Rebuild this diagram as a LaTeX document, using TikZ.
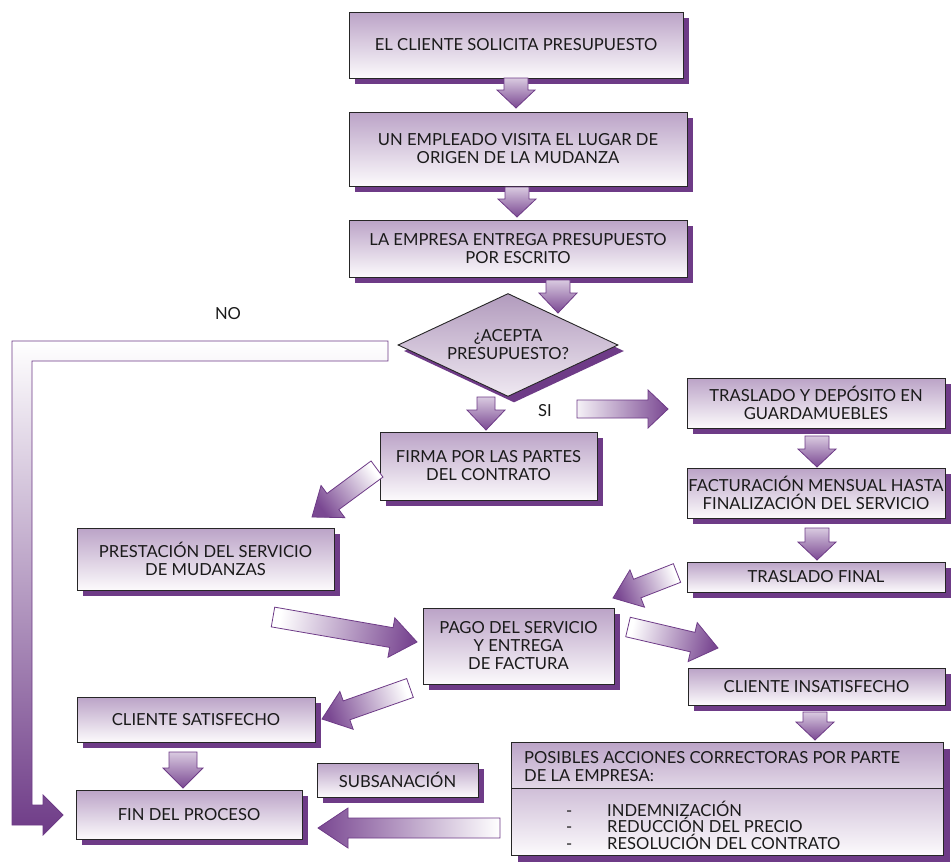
\documentclass[tikz,border=0pt]{standalone}
\usepackage{fontspec}
\setmainfont{Lato}
\usetikzlibrary{shapes.geometric,calc,shadows}
\definecolor{shp}{HTML}{6E3B87}
\definecolor{btop}{HTML}{BBA3C7}
\definecolor{bbot}{HTML}{FCFAFC}
\definecolor{ahead}{HTML}{7A4892}
\definecolor{atail}{HTML}{D9CAE0}
\definecolor{txt}{HTML}{1A1A1A}
\newcommand\boxfont{\fontsize{16.6}{18}\selectfont}
% #1 tail x, #2 tail y, #3 tip x, #4 tip y (pixels, y downward), #5 shaft half width, #6 head half width, #7 head length, #8 tail colour
\newcommand\blockarrow[8]{%
  \pgfmathsetmacro\baang{atan2((#2)-(#4),(#3)-(#1))+90}%
  \coordinate (bt) at (#1,-#2);
  \coordinate (bh) at (#3,-#4);
  \coordinate (bn) at ($(bh)!#7pt!(bt)$);
  \path[draw=shp, line width=0.8pt, line join=miter, top color=#8, bottom color=ahead, shading angle=\baang]
    ($(bt)!#5pt!90:(bh)$) -- ($(bn)!#5pt!-90:(bt)$) -- ($(bn)!#6pt!-90:(bt)$) -- (bh)
    -- ($(bn)!#6pt!90:(bt)$) -- ($(bn)!#5pt!90:(bt)$) -- ($(bt)!#5pt!-90:(bh)$) -- cycle;
}
\tikzset{
  flowbox/.style={draw=black!85, line width=0.9pt, top color=btop, bottom color=bbot,
    align=center, font=\boxfont, text=txt, inner sep=1pt,
    drop shadow={shadow xshift=6pt, shadow yshift=-6pt, fill=shp, opacity=1}},
  lbl/.style={font=\boxfont, text=txt, inner sep=0pt}
}
\begin{document}
\begin{tikzpicture}[x=1pt,y=1pt]
\useasboundingbox (0,0) rectangle (951,-863);
\fill[white] (0,0) rectangle (951,-863);

% boxes
\node[flowbox, minimum width=334pt, minimum height=66pt] (b1) at (516,-45) {EL CLIENTE SOLICITA PRESUPUESTO};
\node[flowbox, minimum width=338pt, minimum height=74pt] (b2) at (518,-149) {UN EMPLEADO VISITA EL LUGAR DE\\ORIGEN DE LA MUDANZA};
\node[flowbox, minimum width=338pt, minimum height=57pt] (b3) at (518,-248.5) {LA EMPRESA ENTREGA PRESUPUESTO\\POR ESCRITO};
\node[diamond, aspect=2.14, draw=black!85, line width=0.9pt, top color=btop!95!black, bottom color=bbot!80!btop,
  minimum width=220pt, minimum height=103pt, inner sep=0pt, align=center, font=\boxfont, text=txt,
  drop shadow={shadow xshift=6pt, shadow yshift=-6pt, fill=shp, opacity=1}] (dec) at (508,-345) {¿ACEPTA\\PRESUPUESTO?};
\node[flowbox, minimum width=217pt, minimum height=68pt] (firma) at (488.5,-466) {FIRMA POR LAS PARTES\\DEL CONTRATO};
\node[flowbox, minimum width=258pt, minimum height=50pt] (tras) at (816,-403) {TRASLADO Y DEPÓSITO EN\\GUARDAMUEBLES};
\node[flowbox, minimum width=258pt, minimum height=50pt] (fact) at (816,-493) {FACTURACIÓN MENSUAL HASTA\\FINALIZACIÓN DEL SERVICIO};
\node[flowbox, minimum width=258pt, minimum height=30pt] (tfin) at (816,-577) {TRASLADO FINAL};
\node[flowbox, minimum width=257pt, minimum height=62pt] (prest) at (205.5,-559) {PRESTACIÓN DEL SERVICIO\\DE MUDANZAS};
\node[flowbox, minimum width=191pt, minimum height=76pt] (pago) at (518.5,-646) {PAGO DEL SERVICIO\\Y ENTREGA\\DE FACTURA};
\node[flowbox, minimum width=257pt, minimum height=37pt] (insat) at (816.5,-686.5) {CLIENTE INSATISFECHO};
\node[flowbox, minimum width=238pt, minimum height=45pt] (sat) at (196,-719.5) {CLIENTE SATISFECHO};
\node[flowbox, minimum width=226pt, minimum height=49pt] (fin) at (189,-814.5) {FIN DEL PROCESO};
\node[flowbox, minimum width=161pt, minimum height=34pt] (subs) at (397.5,-780) {SUBSANACIÓN};

% corrective actions box
\fill[shp] (518,-749) rectangle (950,-862);
\path[top color=btop, bottom color=bbot!60!btop] (511,-742) rectangle (943,-788);
\path[top color=btop!70!white, bottom color=bbot] (511,-788) rectangle (943,-855);
\draw[black!85, line width=0.9pt] (511,-742) rectangle (943,-855);
\draw[black!85, line width=0.9pt] (511,-788) -- (943,-788);
\node[lbl, anchor=base west] (acc1) at (524,-763) {POSIBLES ACCIONES CORRECTORAS POR PARTE};
\node[lbl, anchor=base west] (acc2) at (524,-781) {DE LA EMPRESA:};
\node[lbl, anchor=base west] (d1) at (566,-816) {-};
\node[lbl, anchor=base west] (d2) at (566,-832) {-};
\node[lbl, anchor=base west] (d3) at (566,-849) {-};
\node[lbl, anchor=base west] (i1) at (607,-816) {INDEMNIZACIÓN};
\node[lbl, anchor=base west] (i2) at (607,-832) {REDUCCIÓN DEL PRECIO};
\node[lbl, anchor=base west] (i3) at (607,-849) {RESOLUCIÓN DEL CONTRATO};

% NO loop
\path[draw=shp, line width=0.8pt, line join=miter, top color=white, middle color=shp!75!white, bottom color=shp]
  (12,-341) -- (388,-341) -- (388,-361) -- (32,-361) -- (32,-805) -- (43,-805) -- (43,-795)
  -- (63,-815) -- (43,-835) -- (43,-825) -- (12,-825) -- cycle;
\node[lbl] (no) at (228,-314) {NO};
\node[lbl] (si) at (545,-411) {SI};

% straight down arrows
\blockarrow{516}{78}{516}{108}{12}{19}{18}{atail}
\blockarrow{517}{187}{517}{217}{12}{19}{18}{atail}
\blockarrow{558}{280}{558}{313}{12}{19}{20}{atail}
\blockarrow{486}{397}{486}{430}{9}{19}{20}{atail}
\blockarrow{817}{436}{817}{467}{12}{19}{18}{atail}
\blockarrow{817}{528}{817}{560}{12}{19}{18}{atail}
\blockarrow{815}{712}{815}{740}{12}{19}{18}{atail}
\blockarrow{183}{752}{183}{788}{14}{20}{20}{atail}
% SI arrow
\blockarrow{577}{409}{668}{409}{9}{19}{20}{white!85!btop}
% diagonal arrows
\blockarrow{377}{469}{312}{517}{10}{20}{26}{white}
\blockarrow{273}{617}{417}{642}{10}{20}{26}{white}
\blockarrow{677}{573}{613}{598}{10}{20}{26}{white}
\blockarrow{628}{627}{718}{648}{10}{20}{26}{white}
\blockarrow{410}{688}{322}{719}{10}{20}{26}{white}
% bottom big arrow
\blockarrow{500}{828}{318}{828}{10}{20}{30}{white}
\end{tikzpicture}
\end{document}
